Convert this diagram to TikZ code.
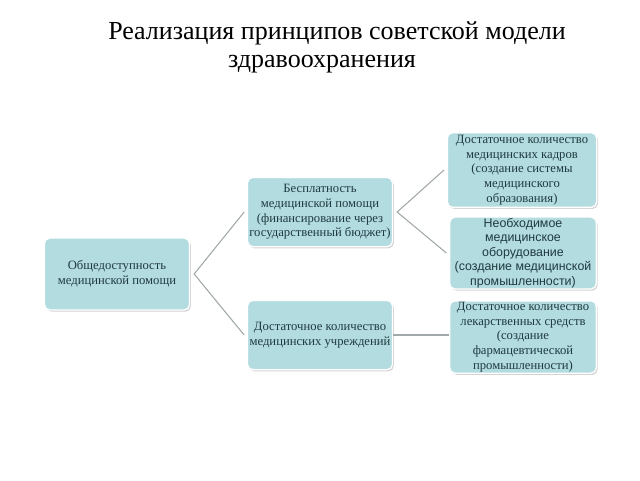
\documentclass[tikz,border=0pt]{standalone}
\usepackage{fontspec}
\setmainfont{Liberation Serif}
\newfontfamily\sansf{Liberation Sans}
\usetikzlibrary{shadows}
\definecolor{boxfill}{HTML}{B3DCE0}
\definecolor{boxtext}{HTML}{1F3A40}
\definecolor{linegray}{HTML}{A0A8AA}
\tikzset{
  box/.style={draw=white, line width=1pt, fill=boxfill, rounded corners=4pt,
    align=center, text=boxtext, font=\fontsize{9.5}{11}\selectfont,
    inner sep=1pt,
    drop shadow={shadow xshift=1pt, shadow yshift=-1.2pt, opacity=0.35, fill=gray}},
  conn/.style={draw=linegray, line width=0.8pt},
}
\begin{document}
\begin{tikzpicture}[x=0.75pt,y=-0.75pt]
\useasboundingbox (0,0) rectangle (640,480);
\node[font=\fontsize{19.5}{24}\selectfont, anchor=base] (t1) at (337,39) {Реализация принципов советской модели};
\node[font=\fontsize{19.5}{24}\selectfont, anchor=base] (t2) at (322,67) {здравоохранения};

\node[box, minimum width=108.75pt, minimum height=54pt] (a) at (117,274) {Общедоступность\\медицинской помощи};
\node[box, minimum width=108.75pt, minimum height=52pt] (b) at (320,212) {Бесплатность\\медицинской помощи\\(финансирование через\\государственный бюджет)};
\node[box, minimum width=108.75pt, minimum height=52pt] (c) at (320,335) {Достаточное количество\\медицинских учреждений};
\node[box, minimum width=112pt, minimum height=56pt] (d) at (522,170) {Достаточное количество\\медицинских кадров\\(создание системы\\медицинского\\образования)};
\node[box, minimum width=110pt, minimum height=52pt, font=\sansf\fontsize{9.3}{10.8}\selectfont] (e) at (523,253) {Необходимое\\медицинское\\оборудование\\(создание медицинской\\промышленности)};
\node[box, minimum width=110pt, minimum height=52pt] (f) at (523,337) {Достаточное количество\\лекарственных средств\\(создание\\фармацевтической\\промышленности)};

\coordinate (ja) at ([xshift=3pt]a.east);
\coordinate (jb) at ([xshift=3pt]b.east);
\draw[conn] ([xshift=-2pt]b.west) -- (ja) -- ([xshift=-2pt]c.west);
\draw[conn] ([xshift=-2pt]d.west) -- (jb) -- ([xshift=-2pt]e.west);
\draw[conn] (c.east) -- (c.east -| f.west);
\end{tikzpicture}
\end{document}
